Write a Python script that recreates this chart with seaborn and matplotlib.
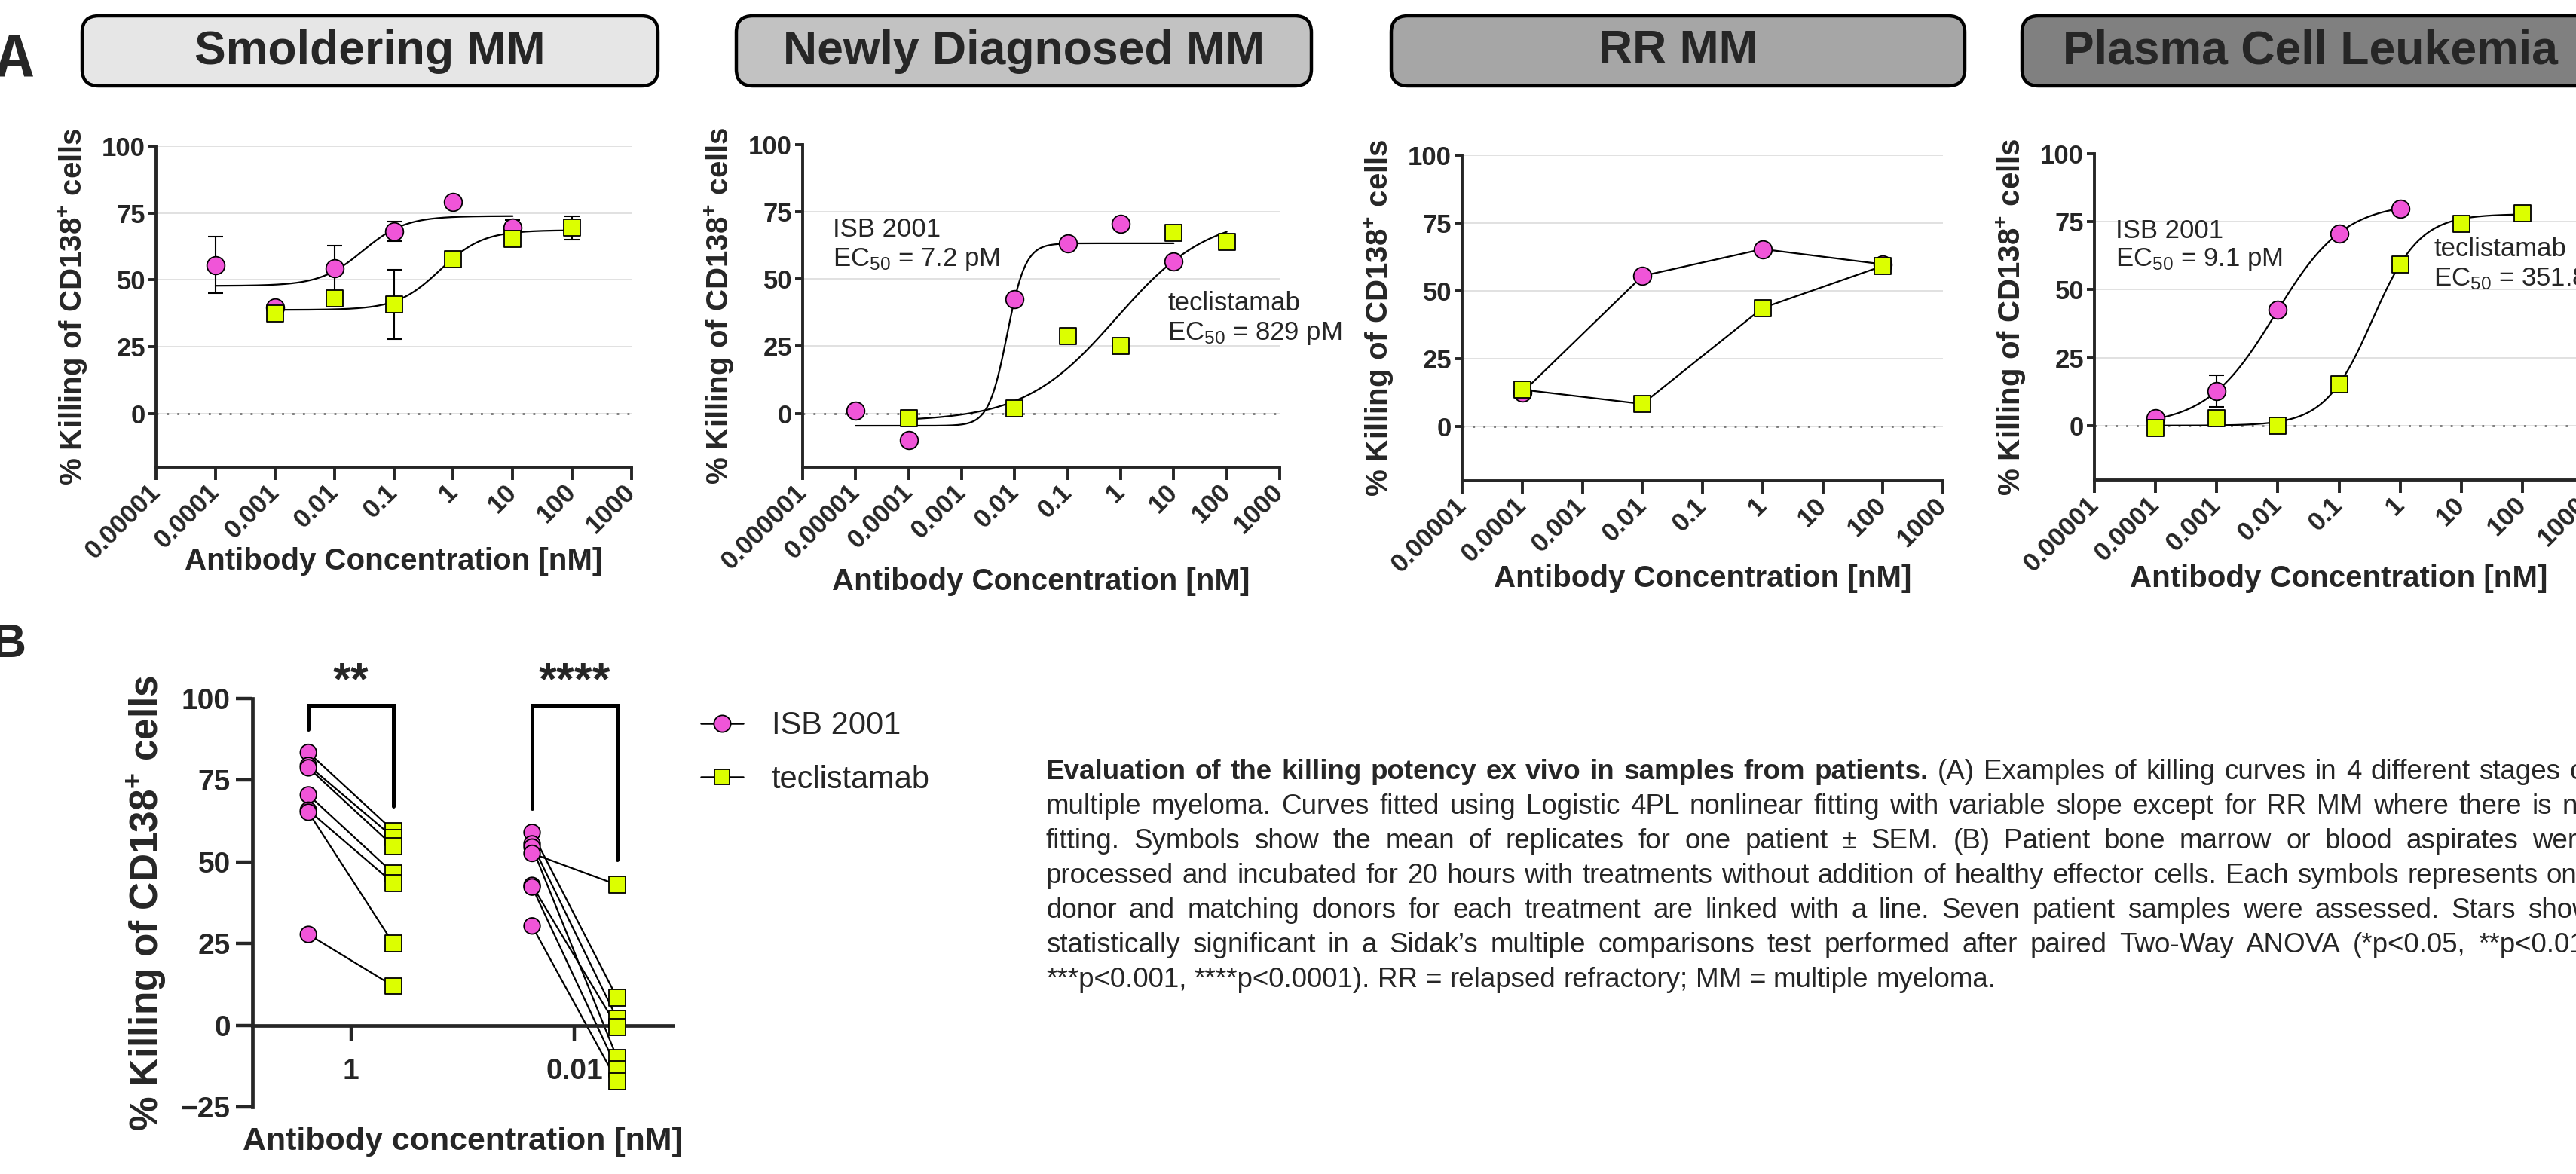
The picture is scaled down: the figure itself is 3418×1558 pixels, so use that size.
import numpy as np
import pandas as pd
import matplotlib
matplotlib.use('Agg')
import matplotlib.pyplot as plt
import seaborn as sns
from matplotlib.patches import FancyBboxPatch
from matplotlib.lines import Line2D
from matplotlib.ticker import NullLocator
from matplotlib.transforms import IdentityTransform

W, H, DPI = 3418, 1558, 100
PINK = '#F055D8'
LIME = '#DCFF00'

# ---------------- Panel A data ----------------
panel_titles = ['Smoldering MM', 'Newly Diagnosed MM', 'RR MM', 'Plasma Cell Leukemia']
header_colors = ['#e6e6e6', '#c2c2c2', '#a6a6a6', '#808080']
decade_ticks = [1e-6, 1e-5, 1e-4, 1e-3, 1e-2, 1e-1, 1, 10, 100, 1000]
decade_labels = ['0.000001', '0.00001', '0.0001', '0.001', '0.01', '0.1', '1', '10', '100', '1000']
y_ticks_a = [0, 25, 50, 75, 100]

# Smoldering MM (mean ± SEM)
smm_isb_conc = [1e-4, 1e-3, 1e-2, 1e-1, 1, 10]
smm_isb_kill = [55.6, 39.8, 54.3, 68.2, 79.2, 69.7]
smm_isb_sem = [10.5, 0, 8.5, 3.6, 0, 2.8]
smm_tec_conc = [1e-3, 1e-2, 1e-1, 1, 10, 100]
smm_tec_kill = [37.5, 43.2, 40.9, 57.8, 65.4, 69.5]
smm_tec_sem = [0, 0, 13.0, 0, 0, 4.4]
# 4PL fit parameters: bottom, top, EC50 [nM], hill slope
smm_isb_fit = [47.8, 73.9, 0.03, 1.2]
smm_tec_fit = [38.8, 68.6, 0.6, 1.2]

# Newly Diagnosed MM
ndmm_isb_conc = [1e-5, 1e-4, 1e-2, 1e-1, 1, 10]
ndmm_isb_kill = [1.0, -10.0, 42.5, 63.2, 70.6, 56.6]
ndmm_isb_sem = [0, 0, 0, 0, 0, 0]
ndmm_tec_conc = [1e-4, 1e-2, 1e-1, 1, 10, 100]
ndmm_tec_kill = [-1.8, 1.8, 28.8, 25.2, 67.2, 63.8]
ndmm_tec_sem = [0, 0, 0, 0, 0, 0]
ndmm_isb_fit = [-4.6, 63.3, 0.0072, 2.5]
ndmm_tec_fit = [-3.0, 74.0, 0.829, 0.5]

# RR MM (no fit, points joined)
rrmm_conc = [1e-4, 1e-2, 1, 100]
rrmm_isb_kill = [12.5, 55.5, 65.4, 59.8]
rrmm_tec_kill = [13.6, 8.3, 43.7, 59.2]

# Plasma Cell Leukemia
pcl_isb_conc = [1e-4, 1e-3, 1e-2, 1e-1, 1]
pcl_isb_kill = [2.8, 12.6, 42.7, 70.6, 79.9]
pcl_isb_sem = [0, 5.8, 0, 0, 0]
pcl_tec_conc = [1e-4, 1e-3, 1e-2, 1e-1, 1, 10, 100]
pcl_tec_kill = [-0.8, 2.8, 0.0, 15.3, 59.2, 74.2, 78.2]
pcl_tec_sem = [0, 0, 0, 0, 0, 0, 0]
pcl_isb_fit = [0.0, 82.0, 0.0091, 0.77]
pcl_tec_fit = [0.0, 77.8, 0.3518, 1.12]

# ---------------- Panel B data ----------------
b_conc_labels = ['1', '0.01']
b_treatments = ['ISB 2001', 'teclistamab']
b_isb_1nm = [83.5, 79.5, 78.8, 70.5, 65.8, 65.2, 27.8]
b_tec_1nm = [59.5, 57.5, 54.8, 46.5, 43.5, 25.0, 12.0]
b_isb_001nm = [59.0, 55.5, 54.5, 52.6, 42.8, 42.3, 30.4]
b_tec_001nm = [8.4, 2.0, -10.0, 43.0, -0.5, -13.3, -17.1]
b_stars = ['**', '****']
b_bracket_top = [98.0, 98.0]
b_bracket_left_end = [90.6, 66.4]
b_bracket_right_end = [67.0, 50.6]

caption_lines = [
    'Evaluation of the killing potency ex vivo in samples from patients. (A) Examples of killing curves in 4 different stages of',
    'multiple myeloma. Curves fitted using Logistic 4PL nonlinear fitting with variable slope except for RR MM where there is no',
    'fitting. Symbols show the mean of replicates for one patient \u00b1 SEM. (B) Patient bone marrow or blood aspirates were',
    'processed and incubated for 20 hours with treatments without addition of healthy effector cells. Each symbols represents one',
    'donor and matching donors for each treatment are linked with a line. Seven patient samples were assessed. Stars show',
    'statistically significant in a Sidak\u2019s multiple comparisons test performed after paired Two-Way ANOVA (*p<0.05, **p<0.01,',
    '***p<0.001, ****p<0.0001). RR = relapsed refractory; MM = multiple myeloma.',
]

# ---------------- style ----------------
sns.set_theme(style='ticks')
plt.rcParams['font.family'] = ['Liberation Sans', 'DejaVu Sans']
plt.rcParams['mathtext.fontset'] = 'custom'
plt.rcParams['mathtext.rm'] = 'Liberation Sans'
plt.rcParams['mathtext.bf'] = 'Liberation Sans:bold'
plt.rcParams['mathtext.default'] = 'regular'

fig = plt.figure(figsize=(W / DPI, H / DPI), dpi=DPI)
fig.patch.set_facecolor('white')


def px_axes(x0, x1, ytop, ybot):
    return fig.add_axes([x0 / W, 1 - ybot / H, (x1 - x0) / W, (ybot - ytop) / H])


def fig_text(x, y, s, **kw):
    return fig.text(x / W, 1 - y / H, s, **kw)


def draw_series(ax, conc, kill, sem, fit, color, marker, size, connect=False):
    if fit is not None:
        bottom, top, ec50, hill = fit
        xs = np.logspace(np.log10(min(conc)), np.log10(max(conc)), 300)
        ys = bottom + (top - bottom) / (1 + (ec50 / xs) ** hill)
        sns.lineplot(x=xs, y=ys, color='black', lw=1.6, ax=ax, zorder=2)
    if connect:
        sns.lineplot(x=conc, y=kill, color='black', lw=1.6, ax=ax, zorder=2)
    if sem is not None:
        sem = np.asarray(sem)
        m = sem > 0
        if m.any():
            ax.errorbar(np.asarray(conc)[m], np.asarray(kill)[m], yerr=sem[m], fmt='none',
                        ecolor='black', elinewidth=1.5, capsize=7, capthick=1.5, zorder=3)
    sns.scatterplot(x=conc, y=kill, marker=marker, color=color, edgecolor='black',
                    linewidth=1.3, s=size, ax=ax, zorder=4, legend=False)


# layout of the A panels: axes x0, x1, y(100), y(-20), xmin, header x0, x1, xlabel y
a_layout = [
    (207, 838, 194, 620, 1e-5, 109, 873, 745),
    (1065, 1698, 192, 620, 1e-6, 977, 1740, 772),
    (1940, 2578, 206, 638, 1e-5, 1846, 2607, 768),
    (2779, 3428, 204, 637, 1e-5, 2683, 3447, 768),
]

a_series = [
    [(smm_isb_conc, smm_isb_kill, smm_isb_sem, smm_isb_fit), (smm_tec_conc, smm_tec_kill, smm_tec_sem, smm_tec_fit)],
    [(ndmm_isb_conc, ndmm_isb_kill, ndmm_isb_sem, ndmm_isb_fit), (ndmm_tec_conc, ndmm_tec_kill, ndmm_tec_sem, ndmm_tec_fit)],
    [(rrmm_conc, rrmm_isb_kill, None, None), (rrmm_conc, rrmm_tec_kill, None, None)],
    [(pcl_isb_conc, pcl_isb_kill, pcl_isb_sem, pcl_isb_fit), (pcl_tec_conc, pcl_tec_kill, pcl_tec_sem, pcl_tec_fit)],
]

for i, (x0, x1, ytop, ybot, xmin, hx0, hx1, xl_y) in enumerate(a_layout):
    # header box
    box = FancyBboxPatch((hx0, H - 114), hx1 - hx0, 93, boxstyle='round,pad=0,rounding_size=22',
                         transform=IdentityTransform(), facecolor=header_colors[i],
                         edgecolor='black', linewidth=3.2)
    fig.add_artist(box)
    fig_text((hx0 + hx1) / 2, 68, panel_titles[i], ha='center', va='center',
             fontsize=45, fontweight='bold')

    ax = px_axes(x0, x1, ytop, ybot)
    ax.set_xscale('log')
    for y in y_ticks_a:
        ax.axhline(y, color='#dcdcdc', lw=1.2, zorder=0)
    ax.axhline(0, color='#777777', lw=2, ls=(0, (1, 4)), zorder=1)

    connect = i == 2
    (ic, ik, isem, ifit), (tc, tk, tsem, tfit) = a_series[i]
    draw_series(ax, ic, ik, isem, ifit, PINK, 'o', 290, connect)
    draw_series(ax, tc, tk, tsem, tfit, LIME, 's', 240, connect)

    ax.set_xlim(xmin, 1000)
    ax.set_ylim(-20, 100)
    ticks = [t for t in decade_ticks if t >= xmin * 0.99]
    labels = decade_labels[len(decade_ticks) - len(ticks):]
    ax.set_xticks(ticks, labels, rotation=45, ha='right', va='center', rotation_mode='anchor',
                  fontsize=25, fontweight='bold')
    ax.xaxis.set_minor_locator(NullLocator())
    ax.set_yticks(y_ticks_a)
    plt.setp(ax.get_yticklabels(), fontweight='bold')
    ax.tick_params(axis='y', labelsize=25, length=7, width=2.8, pad=3)
    ax.tick_params(axis='x', length=12, width=2.8, pad=8)
    sns.despine(ax=ax)
    for s in ['left', 'bottom']:
        ax.spines[s].set_linewidth(2.8)
    ax.set_facecolor('none')

    ax.set_ylabel(r'% Killing of CD138$^{\mathbf{+}}$ cells', fontsize=29, fontweight='bold')
    ax.yaxis.set_label_coords(-110 / (x1 - x0), 0.5)
    ax.yaxis.label.set_va('center')
    ax.set_xlabel('Antibody Concentration [nM]', fontsize=29, fontweight='bold')
    ax.xaxis.set_label_coords(0.5, -(xl_y - ybot) / (ybot - ytop))
    ax.xaxis.label.set_va('center')

# EC50 annotations
ann_fs = 25
fig_text(1105, 305, 'ISB 2001', fontsize=ann_fs, va='center')
fig_text(1105, 345, r'EC$_{50}$ = 7.2 pM', fontsize=ann_fs, va='center')
fig_text(1549, 402, 'teclistamab', fontsize=ann_fs, va='center')
fig_text(1549, 442, r'EC$_{50}$ = 829 pM', fontsize=ann_fs, va='center')
fig_text(2807, 307, 'ISB 2001', fontsize=ann_fs, va='center')
fig_text(2807, 345, r'EC$_{50}$ = 9.1 pM', fontsize=ann_fs, va='center')
fig_text(3229, 330, 'teclistamab', fontsize=ann_fs, va='center')
fig_text(3229, 370, r'EC$_{50}$ = 351.8 pM', fontsize=ann_fs, va='center')

# panel letters
fig_text(44, 80, 'A', family='Liberation Mono', fontweight='bold', fontsize=60, ha='right', va='center')
fig_text(35, 855, 'B', fontweight='bold', fontsize=45, ha='right', va='center')

# ---------------- Panel B ----------------
rows = []
for ci, (isb_vals, tec_vals) in enumerate([(b_isb_1nm, b_tec_1nm), (b_isb_001nm, b_tec_001nm)]):
    for p, (a, b) in enumerate(zip(isb_vals, tec_vals)):
        rows.append({'pair': f'{ci}-{p}', 'conc': ci, 'treatment': b_treatments[0], 'kill': a})
        rows.append({'pair': f'{ci}-{p}', 'conc': ci, 'treatment': b_treatments[1], 'kill': b})
dfB = pd.DataFrame(rows)
dodge = {b_treatments[0]: -0.19, b_treatments[1]: 0.19}
dfB['pos'] = dfB['conc'] + dfB['treatment'].map(dodge)

axB = px_axes(335, 893, 927, 1469)
sns.lineplot(data=dfB, x='pos', y='kill', units='pair', estimator=None, sort=False,
             color='black', lw=1.6, ax=axB, zorder=2)
sns.scatterplot(data=dfB, x='pos', y='kill', hue='treatment', style='treatment',
                palette={b_treatments[0]: PINK, b_treatments[1]: LIME},
                markers={b_treatments[0]: 'o', b_treatments[1]: 's'},
                s=240, edgecolor='black', linewidth=1.3, ax=axB, legend=False, zorder=4)

for ci in range(len(b_conc_labels)):
    xl, xr = ci + dodge[b_treatments[0]], ci + dodge[b_treatments[1]]
    axB.plot([xl, xl, xr, xr], [b_bracket_left_end[ci], b_bracket_top[ci], b_bracket_top[ci], b_bracket_right_end[ci]],
             color='black', lw=3.6, clip_on=False, solid_joinstyle='miter')
    axB.text(ci, 104.8, b_stars[ci], ha='center', va='center', fontsize=44, fontweight='bold')

sns.despine(ax=axB)
axB.spines['bottom'].set_position(('data', 0))
axB.set_xlim(-0.44, 1.44)
axB.set_ylim(-25, 100)
axB.set_xticks(range(len(b_conc_labels)), b_conc_labels)
axB.set_yticks([-25, 0, 25, 50, 75, 100])
axB.tick_params(axis='both', labelsize=28)
axB.tick_params(axis='y', length=16, width=3.2, pad=5)
axB.tick_params(axis='x', length=15, width=3.2, pad=16)
plt.setp(axB.get_yticklabels(), fontweight='bold')
plt.setp(axB.get_xticklabels(), fontweight='bold')
for s in ['left', 'bottom']:
    axB.spines[s].set_linewidth(3.4)
axB.set_facecolor('none')
axB.set_ylabel(r'% Killing of CD138$^{\mathbf{+}}$ cells', fontsize=37, fontweight='bold')
axB.yaxis.set_label_coords(-140 / 558, 0.5)
axB.yaxis.label.set_va('center')
axB.set_xlabel('Antibody concentration [nM]', fontsize=31, fontweight='bold')
axB.xaxis.set_label_coords(0.5, -(1515 - 1469) / 542)
axB.xaxis.label.set_va('center')

handles = [
    Line2D([0], [0], color='black', lw=1.8, marker='o', ms=16, mfc=PINK, mec='black', mew=1.3),
    Line2D([0], [0], color='black', lw=1.8, marker='s', ms=14, mfc=LIME, mec='black', mew=1.3),
]
fig.legend(handles, b_treatments, loc='center left', bbox_to_anchor=(930 / W, 1 - 999 / H),
           frameon=False, fontsize=30, handlelength=1.35, handletextpad=0.9,
           labelspacing=0.75, borderpad=0, borderaxespad=0)

# ---------------- caption (justified lines) ----------------
CAP_X0, CAP_X1 = 1388, 3440
CAP_Y0, CAP_DY = 1024, 46
CAP_FS = 26.5
renderer = fig.canvas.get_renderer()
for i, line in enumerate(caption_lines):
    words = line.split(' ')
    arts = []
    for j, w in enumerate(words):
        bold = i == 0 and j < 11
        arts.append(fig_text(0, CAP_Y0 + i * CAP_DY, w, fontsize=CAP_FS,
                             fontweight='bold' if bold else 'normal', va='center'))
    widths = [a.get_window_extent(renderer).width for a in arts]
    space = 0.278 * CAP_FS * DPI / 72
    if i < len(caption_lines) - 1:
        gap = max((CAP_X1 - CAP_X0 - sum(widths)) / (len(words) - 1), 0.8 * space)
    else:
        gap = space
    x = CAP_X0
    for a, w in zip(arts, widths):
        a.set_x(x / W)
        x += w + gap

fig.savefig('out.png', dpi=DPI)
